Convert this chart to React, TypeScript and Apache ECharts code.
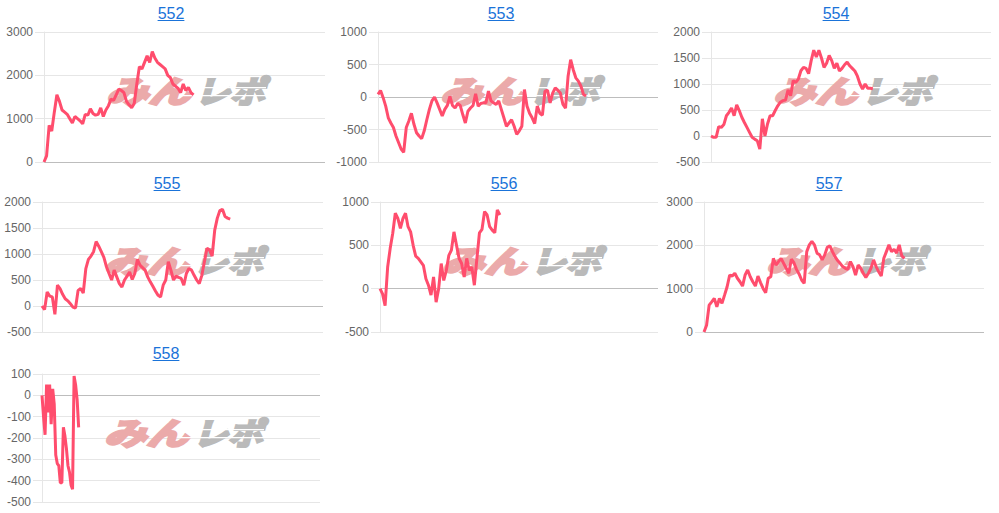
import React, { useEffect, useRef } from "react";
import * as echarts from "echarts";

const titles = ["552", "553", "554", "555", "556", "557", "558"];

const d552 = [0, 140, 845, 715, 1150, 1550, 1400, 1200, 1150, 1100, 1000, 900, 1050, 1000, 950, 880, 1100, 1080, 1230, 1120, 1080, 1100, 1250, 1050, 1200, 1300, 1450, 1420, 1550, 1680, 1650, 1600, 1400, 1320, 1250, 1350, 1800, 2200, 2150, 2300, 2450, 2300, 2550, 2400, 2300, 2250, 2200, 2150, 2000, 1950, 1800, 1750, 1700, 1600, 1800, 1650, 1720, 1600, 1550];
const d553 = [40, 100, -10, -140, -320, -400, -470, -600, -700, -800, -850, -470, -370, -250, -420, -550, -600, -640, -520, -350, -190, -60, 0, -90, -190, -290, -190, -130, 10, -130, -170, -100, -130, -270, -400, -220, -170, -130, 50, -140, -100, -90, -90, 90, -60, -90, -115, -60, -190, -320, -450, -400, -350, -450, -575, -520, -450, 115, -140, -250, -320, -410, -140, -250, -280, 90, 105, -90, 60, 140, 105, 60, -115, -170, 320, 575, 420, 295, 245, 165, 40, 15];
const d554 = [0, -25, -25, 180, 165, 220, 390, 455, 540, 390, 600, 490, 360, 260, 165, 70, -25, -60, -90, -250, 330, 0, 230, 390, 390, 490, 580, 650, 680, 690, 885, 775, 1065, 1030, 1095, 1255, 1320, 1300, 1200, 1450, 1650, 1520, 1650, 1500, 1320, 1400, 1550, 1450, 1300, 1400, 1250, 1300, 1370, 1420, 1350, 1300, 1250, 1150, 1000, 900, 1000, 920, 920, 910];
const d555 = [0, -70, 270, 190, 175, -160, 400, 335, 225, 140, 100, 45, -20, -40, 300, 335, 250, 720, 895, 960, 1045, 1240, 1150, 1045, 935, 755, 625, 500, 690, 560, 430, 365, 500, 575, 655, 510, 625, 895, 785, 740, 690, 560, 465, 380, 290, 205, 175, 400, 500, 850, 690, 500, 575, 550, 530, 400, 625, 720, 690, 590, 500, 430, 590, 850, 1110, 1075, 960, 1460, 1690, 1835, 1860, 1720, 1690, 1670];
const d556 = [0, -60, -195, 250, 465, 640, 870, 810, 695, 810, 870, 715, 655, 500, 375, 350, 310, 270, 115, 40, -75, 135, -155, 0, 290, 95, 210, 385, 445, 655, 500, 350, 290, 135, 350, 210, 250, 40, 350, 645, 685, 890, 850, 715, 675, 645, 910, 850];
const d557 = [0, 155, 620, 695, 775, 580, 775, 660, 850, 1045, 1315, 1290, 1355, 1240, 1160, 1060, 1315, 1430, 1275, 1160, 1060, 1290, 1140, 1005, 905, 1240, 1275, 1700, 1545, 1625, 1700, 1585, 1470, 1355, 1680, 1600, 1445, 1340, 1200, 1120, 1855, 2010, 2090, 2010, 1820, 1780, 1665, 1780, 1955, 1990, 1855, 1740, 1650, 1585, 1510, 1470, 1445, 1625, 1510, 1315, 1545, 1470, 1355, 1260, 1355, 1470, 1665, 1510, 1390, 1290, 1700, 1855, 2010, 1855, 1910, 1820, 2010, 1755, 1700];
const d558 = [0, -100, -185, 50, -80, 50, -135, 30, -40, -280, -320, -330, -410, -410, -150, -190, -250, -330, -360, -420, -440, 90, 50, -20, -150];

const seriesValues = [d552, d553, d554, d555, d556, d557, d558];

// number of x categories per chart
const categoryCounts = [110, 110, 110, 110, 110, 110, 183];

// y-axis ticks: min, max, interval
const yMins = [0, -1000, -500, -500, -500, 0, -500];
const yMaxs = [3000, 1000, 2000, 2000, 1000, 3000, 100];
const yIntervals = [1000, 500, 500, 500, 500, 1000, 100];

// layout (pixels)
const layouts = [
  { left: 44, right: 325, top: 32, bottom: 162, titleX: 171, titleY: 13 },
  { left: 378, right: 658, top: 32, bottom: 162, titleX: 501, titleY: 13 },
  { left: 711, right: 991, top: 32, bottom: 162, titleX: 836, titleY: 13 },
  { left: 42, right: 323, top: 202, bottom: 332, titleX: 167, titleY: 183 },
  { left: 380, right: 658, top: 202, bottom: 332, titleX: 504, titleY: 183 },
  { left: 704, right: 984, top: 202, bottom: 332, titleX: 829, titleY: 183 },
  { left: 42, right: 320, top: 374, bottom: 502, titleX: 166, titleY: 353 },
];

const LINE_COLOR = "#ff4d6d";
const TITLE_COLOR = "#1a73d9";
const GRID_COLOR = "#e6e6e6";
const ZERO_COLOR = "#bdbdbd";
const LABEL_FONT = '"Liberation Sans", Arial, sans-serif';
const WM_FONT = 'italic bold 31px "Noto Sans CJK JP", sans-serif';
const WM_PINK = "#ebaaaa";
const WM_GREY = "#bababa";
const stripeYs = [-3, 5];

function buildOption() {
  const grid: any[] = [];
  const xAxis: any[] = [];
  const yAxis: any[] = [];
  const series: any[] = [];
  const graphic: any[] = [];

  titles.forEach((t, i) => {
    const L = layouts[i];
    grid.push({
      left: L.left,
      top: L.top,
      width: L.right - L.left,
      height: L.bottom - L.top,
      containLabel: false,
    });
    const cats = Array.from({ length: categoryCounts[i] }, (_, k) => String(k));
    xAxis.push({
      type: "category",
      gridIndex: i,
      data: cats,
      boundaryGap: false,
      axisLine: { show: false },
      axisTick: { show: false },
      axisLabel: { show: false },
      splitLine: { show: false },
    });
    const ticks: number[] = [];
    for (let v = yMins[i]; v <= yMaxs[i]; v += yIntervals[i]) ticks.push(v);
    yAxis.push({
      type: "value",
      gridIndex: i,
      min: yMins[i],
      max: yMaxs[i],
      interval: yIntervals[i],
      axisLine: { show: true, lineStyle: { color: GRID_COLOR, width: 1 } },
      axisTick: { show: true, length: 9, lineStyle: { color: GRID_COLOR } },
      axisLabel: {
        color: "#666",
        fontSize: 12,
        fontFamily: LABEL_FONT,
        margin: 11,
        formatter: (v: number) => String(v),
      },
      splitLine: {
        show: true,
        lineStyle: {
          color: ticks.map((v) => (v === 0 ? ZERO_COLOR : GRID_COLOR)),
          width: 1,
        },
      },
    });
    series.push({
      type: "line",
      xAxisIndex: i,
      yAxisIndex: i,
      data: seriesValues[i],
      showSymbol: false,
      symbol: "none",
      z: 5,
      lineStyle: { color: LINE_COLOR, width: 3 },
      itemStyle: { color: LINE_COLOR },
    });

    // title + underline
    graphic.push({
      type: "text",
      x: L.titleX,
      y: L.titleY,
      z: 10,
      style: {
        text: t,
        x: 0,
        y: 0,
        fill: TITLE_COLOR,
        font: '16px "Liberation Sans", Arial, sans-serif',
        textAlign: "center",
        textVerticalAlign: "middle",
      },
    });
    graphic.push({
      type: "line",
      z: 10,
      shape: {
        x1: L.titleX - 13.4,
        y1: L.titleY + 7.5,
        x2: L.titleX + 13.4,
        y2: L.titleY + 7.5,
      },
      style: { stroke: TITLE_COLOR, lineWidth: 1 },
    });

    // watermark
    const stripes = stripeYs.map((sy) => ({
      type: "rect",
      z: 2,
      shape: { x: -4, y: sy, width: 84, height: 1.2 },
      style: { fill: "#ffffff" },
    }));
    graphic.push({
      type: "group",
      x: L.left + 142,
      y: L.top + 58,
      z: 1,
      silent: true,
      children: [
        {
          type: "text",
          x: -80,
          y: 0,
          scaleX: 1.36,
          z: 1,
          style: {
            text: "みん",
            x: 0,
            y: 0,
            fill: WM_PINK,
            stroke: WM_PINK,
            lineWidth: 2.6,
            font: WM_FONT,
            textAlign: "left",
            textVerticalAlign: "middle",
          },
        },
        {
          type: "text",
          x: 9,
          y: 0,
          scaleX: 1.13,
          z: 1,
          style: {
            text: "レポ",
            x: 0,
            y: 0,
            fill: WM_GREY,
            stroke: WM_GREY,
            lineWidth: 2.6,
            font: WM_FONT,
            textAlign: "left",
            textVerticalAlign: "middle",
          },
        },
        ...stripes,
      ],
    });
  });

  return {
    animation: false,
    backgroundColor: "#ffffff",
    grid,
    xAxis,
    yAxis,
    series,
    graphic,
  };
}

export default function App() {
  const ref = useRef<HTMLDivElement>(null);
  useEffect(() => {
    document.body.style.margin = "0";
    if (!ref.current) return;
    const chart = echarts.init(ref.current, undefined, { renderer: "svg" });
    chart.setOption(buildOption() as any);
    return () => chart.dispose();
  }, []);
  return <div ref={ref} style={{ width: 999, height: 513 }} />;
}
